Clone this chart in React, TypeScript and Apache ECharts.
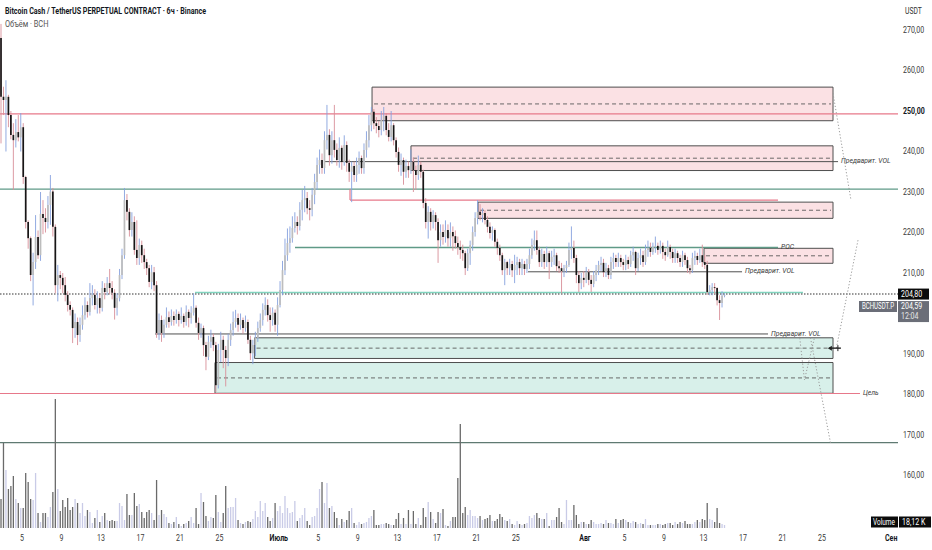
import React, { useEffect, useRef } from "react";
import * as echarts from "echarts";

// ---------------- data ----------------
const FIRST_OPEN = 268;
const FIRST_CANDLE_DAY = 1.75; // days counted from 1 June 00:00 (2 June 18:00)
const CANDLE_DAYS = 0.25; // 6h candles

const closes = [
  253.5, 252.7, 253.5, 249, 244.1, 242.8, 244.8, 243.5, 246, 233.7,
  222.6, 218.6, 209.5, 212.7, 218.9, 214.4, 224.6, 223.6, 222.6, 226.8,
  230.1, 221.4, 207, 209.5, 208.8, 207, 204.6, 202.1, 200.9, 196.4,
  197.9, 194.7, 197.2, 199.6, 202.1, 200.4, 203.8, 204.6, 202.1, 203.8,
  201.4, 206.3, 205.3, 207.5, 206.3, 205.1, 201.4, 203.8, 209.5, 214.4,
  228, 225.1, 220.6, 222.6, 215.7, 213.7, 216.9, 214.4, 212.7, 211.2,
  207.8, 210.2, 207, 195.2, 198.4, 195.2, 197.2, 199.1, 197.9, 199.4,
  198.4, 199.9, 198.4, 199.4, 197.9, 200.4, 198.9, 200.2, 201.4, 197.7,
  195.2, 196.4, 192.2, 189.3, 193, 194.2, 192.2, 182.3, 191, 193.5,
  191, 189, 193.5, 195.9, 197.9, 198.9, 197.2, 198.4, 196.4, 197.9,
  193.5, 190.2, 192.2, 194, 196.4, 198.4, 200.9, 202.1, 199.6, 198.4,
  200.2, 197.2, 202.1, 205.8, 210.7, 214.4, 217.4, 218.6, 221.1, 222.6,
  221.6, 225.6, 228, 228.5, 226, 225.6, 229.3, 232.5, 236.7, 237.9,
  235.9, 242.8, 244.1, 239.1, 242.8, 240.4, 237.9, 240.9, 237.4, 241.6,
  237.2, 235, 236.4, 234.2, 236.7, 238.4, 235.9, 240.4, 242.8, 246.5,
  249.8, 247, 246.3, 245.3, 247.8, 248.8, 245.3, 243.6, 246.5, 242.8,
  239.9, 236.7, 237.9, 235, 236.4, 235.4, 237.4, 235.4, 234.2, 236.7,
  235, 227.3, 222.6, 225.1, 222.6, 224.3, 222.6, 218.1, 220.1, 218.9,
  220.6, 218.6, 220.1, 219.1, 217.4, 216.4, 215.7, 214.9, 211.2, 214.9,
  216.9, 220.1, 223.6, 225.1, 224.3, 224.8, 223.1, 221.4, 219.9, 220.6,
  217.7, 216.2, 214.4, 210.7, 212.7, 211.2, 212.2, 210.7, 212, 212.7,
  211.2, 212.2, 211, 212.2, 214.4, 216.9, 218.1, 215.7, 212.7, 214.7,
  212.7, 214.9, 212.7, 214, 214.4, 211.7, 211.2, 210.5, 211.2, 212,
  215.7, 216.2, 213.7, 209.5, 207.5, 208.8, 208.3, 210.2, 208.3, 207.3,
  209.5, 210.7, 212, 212.5, 210.2, 211.2, 209.5, 212.7, 213.7, 212.7,
  213.7, 212.7, 212, 213.2, 212.2, 214.4, 215.2, 211.2, 213.7, 214.4,
  212.7, 215.7, 216.2, 215.2, 216.4, 216.7, 215.7, 216.7, 215.2, 214.4,
  216.4, 215.2, 213.7, 214.9, 213.7, 212.7, 214.4, 213.2, 211.2, 210.7,
  213.7, 214.2, 213.2, 214.4, 212.7, 212, 205.3, 205.8, 206.5, 206.3,
  203.3, 202.6, 204.4, 204.6,
];

const highs = [
  271.5, 256, 257.6, 254, 250, 247, 248, 249, 249.5, 247,
  234, 223, 219, 215, 224.3, 220.5, 230, 228, 226, 229,
  234.2, 231, 222, 212, 210.5, 210, 209, 205.5, 203, 201.5,
  200, 199, 199, 202, 204, 203, 207.5, 207, 206, 205.5,
  205, 208, 207.5, 209, 211, 208, 206, 205, 211, 216,
  231, 229.5, 226, 225, 224, 223, 218.5, 218, 216, 213.5,
  212, 212, 211.5, 208, 200, 199.5, 198.5, 201.5, 200.5, 201,
  200.5, 201, 200.5, 201.5, 200, 202, 201, 201.8, 205, 202,
  199, 197.5, 197, 193, 194.5, 196, 195, 193, 192.5, 195.5,
  194.5, 192, 195, 197.5, 200.5, 200.9, 200, 200, 199, 199.5,
  198.5, 194.5, 193.5, 195.5, 198, 200, 202.5, 204, 203.5, 201.5,
  201.5, 201, 204, 208, 213, 218.5, 221, 221.5, 224, 225,
  224, 227.5, 230.5, 231.5, 230, 228, 231, 234.5, 238.5, 240.5,
  239.5, 245, 251.5, 245.5, 245, 251.5, 242, 243.5, 241.5, 244,
  242.5, 238, 237.5, 237.5, 238.5, 240, 239, 242, 245, 249,
  251, 250.5, 248.5, 247.5, 250, 251, 249.5, 247, 250, 247,
  243.5, 241, 239.5, 238.5, 238, 237.5, 240.5, 238.5, 236.5, 239,
  237.5, 235.5, 228.5, 226.5, 226, 225.5, 225, 223.5, 222, 222,
  223, 222, 222.5, 221.5, 220.5, 219, 218, 217, 215.5, 216,
  218, 221.5, 225, 228, 227, 226, 225.5, 224, 222.5, 221.5,
  221, 218.5, 217, 215, 213.5, 213, 213.5, 213, 214.5, 214,
  213.5, 213.5, 213, 213.5, 216, 218.5, 220.5, 220.5, 216.5, 216,
  215.5, 216.5, 215.5, 215.5, 216, 215, 213, 212.5, 212, 213,
  217.5, 221.5, 218, 214.5, 210.5, 210, 210.5, 211.5, 211, 209.5,
  210.5, 212, 213, 214, 213.5, 212.5, 212, 214, 215, 214.5,
  215, 214.5, 213.5, 214.5, 214, 215.5, 216.5, 215.5, 215, 216,
  215.5, 217, 218, 217.5, 217.5, 219, 217.5, 218, 217.5, 216,
  218, 217, 216, 216, 215.5, 214.5, 215.5, 215, 214, 212,
  215, 215.5, 215, 216, 217, 214.5, 213, 207, 207.5, 207.5,
  206.5, 204.5, 205.5, 205,
];

const lows = [
  242, 249, 240, 246, 243, 230.5, 241, 242.5, 240, 232,
  221, 216, 208, 202, 211, 213.5, 213, 219.6, 220, 221,
  221.9, 219, 205, 203, 206, 205, 203, 200.5, 199.5, 192.7,
  194, 192.2, 193, 196, 198.5, 199, 199.5, 202, 201, 200,
  200, 200.5, 203.5, 204.5, 204.8, 203.5, 198.5, 199.5, 203, 208.5,
  213.5, 223, 219, 219, 214.5, 212, 212, 212.5, 211, 209.5,
  206.5, 206, 205.5, 194, 193.5, 193, 194, 196.5, 196.5, 197,
  197, 197.5, 196.8, 197.5, 196.5, 197, 196.6, 197.5, 199.5, 196.5,
  193.5, 194, 189.5, 186, 188.5, 191.5, 190.7, 180.6, 181.5, 188,
  186.5, 182, 187, 192, 194.5, 196.5, 195.5, 196, 195, 195.5,
  192.5, 188.5, 187.5, 189.5, 193, 195.5, 197, 199.5, 198, 195.5,
  197, 195.5, 194.5, 201.5, 204.5, 209.5, 213, 215, 217.5, 220,
  219.5, 220.5, 223, 225, 224.5, 223, 224, 227, 230.5, 234.5,
  234.5, 234.5, 240.5, 236.5, 237, 238.5, 236.5, 236, 235.5, 236.5,
  235, 232.5, 227.5, 232.5, 232.5, 234.5, 234.5, 234.5, 238.5, 241,
  245, 245.5, 244.5, 243.5, 244, 245, 244, 242.5, 242.5, 241.5,
  238.5, 235, 234, 231.8, 233.5, 233.5, 234.5, 230, 230.5, 233,
  233.5, 226, 221, 218.5, 220.5, 221, 220.5, 212.5, 216.5, 217,
  217.5, 216.5, 216.5, 215.5, 216, 214.5, 213.5, 213, 209.5, 210.5,
  212, 215.5, 219, 222, 223, 222.5, 222, 220, 218.5, 218,
  216.5, 214.5, 213, 209.5, 207, 209.5, 209.5, 209, 207.5, 209.5,
  209.5, 209.5, 209.5, 210, 211, 213.5, 215.5, 214.5, 211.5, 211.5,
  211, 211.5, 208.5, 211.5, 212, 210.5, 210, 205, 209, 210,
  211.5, 213.5, 212.5, 207.5, 205.3, 206, 206.5, 207.5, 207, 205.3,
  206.5, 208, 209.5, 210.5, 209, 209, 208.5, 208.5, 211, 211.5,
  211.5, 211.5, 210.7, 210.7, 211, 211.5, 213, 209.5, 210.5, 212,
  211.5, 212, 214, 214, 214.5, 215, 214.5, 214.8, 213.5, 213,
  214, 213.5, 212.5, 212.5, 212.5, 211.5, 211.5, 212, 210, 209.7,
  210, 212, 212, 212.5, 211.5, 211, 204.6, 204.5, 204.5, 204.8,
  202, 198.4, 201.5, 204,
];

// volume, thousand BCH
const volumes = [
  174, 510, 348, 234, 252, 312, 174, 150, 120, 120,
  330, 276, 174, 168, 330, 90, 36, 90, 90, 66,
  126, 216, 774, 234, 102, 168, 126, 180, 108, 126,
  174, 150, 90, 150, 72, 108, 96, 30, 60, 108,
  36, 72, 90, 48, 42, 48, 42, 42, 150, 132,
  48, 204, 78, 78, 210, 132, 144, 96, 60, 96,
  108, 90, 48, 288, 78, 108, 84, 66, 30, 24,
  36, 66, 24, 12, 24, 30, 42, 66, 30, 120,
  24, 210, 156, 72, 42, 66, 60, 198, 96, 36,
  90, 252, 120, 126, 126, 180, 48, 30, 24, 36,
  42, 36, 54, 102, 66, 162, 102, 150, 66, 42,
  60, 150, 102, 132, 90, 192, 120, 90, 96, 162,
  42, 60, 78, 120, 42, 18, 66, 72, 120, 234,
  276, 150, 270, 120, 132, 96, 60, 18, 54, 36,
  48, 102, 120, 30, 18, 36, 24, 30, 36, 60,
  72, 108, 18, 18, 24, 24, 30, 24, 18, 18,
  54, 90, 24, 60, 24, 108, 24, 102, 24, 60,
  18, 120, 66, 156, 96, 54, 30, 96, 90, 114,
  18, 12, 42, 66, 66, 300, 624, 90, 126, 78,
  108, 72, 72, 60, 72, 48, 54, 60, 78, 42,
  42, 54, 84, 66, 48, 42, 54, 24, 18, 42,
  24, 18, 24, 30, 72, 60, 78, 90, 60, 54,
  54, 90, 12, 48, 48, 66, 120, 36, 24, 168,
  48, 48, 138, 78, 24, 36, 36, 24, 24, 48,
  36, 24, 24, 30, 24, 48, 30, 30, 24, 54,
  30, 48, 54, 48, 36, 30, 42, 36, 24, 30,
  24, 54, 18, 18, 18, 18, 24, 24, 18, 24,
  30, 30, 18, 36, 24, 36, 30, 42, 24, 24,
  24, 36, 48, 36, 54, 48, 150, 54, 48, 36,
  120, 30, 24, 18,
];

// time axis (days from 1 June) and price axis ticks
const xTickDays = [4, 8, 12, 16, 20, 24, 30, 34, 38, 42, 46, 50, 54, 61, 65, 69, 73, 77, 81, 85, 92];
const xTickLabels = ["5", "9", "13", "17", "21", "25", "Июль", "5", "9", "13", "17", "21", "25", "Авг", "5", "9", "13", "17", "21", "25", "Сен"];
const yTicks = [270, 260, 250, 240, 230, 220, 210, 190, 180, 170, 160];
const yTickBold = [250];

// supply / demand zones
const zoneStart = [39.44, 43.38, 50.17, 73.05, 27.55, 23.54];
const zoneEnd = [86.11, 86.11, 86.11, 86.11, 86.11, 86.11];
const zoneLow = [247.6, 235.3, 223.5, 212.4, 188.9, 180.3];
const zoneHigh = [255.9, 241.4, 227.5, 216.1, 194.0, 187.9];
const zoneKind = ["sell", "sell", "sell", "sell", "buy", "buy"];

// horizontal levels
const X_MIN = 1.773;
const X_MAX = 92.69;
const levelPrice = [249.3, 230.7, 180.25, 168.1, 228.0, 216.3, 237.5, 210.3, 205.2, 194.95, 204.8];
const levelFrom = [X_MIN, X_MIN, X_MIN, X_MIN, 37.21, 31.64, 34.68, 55.23, 21.52, 17.47, X_MIN];
const levelTo = [X_MAX, X_MAX, 88.84, X_MAX, 80.54, 80.54, 86.62, 76.9, 83.07, 79.53, X_MAX];
const levelHook = [null, null, null, null, 230.7, null, null, null, null, null, null];
const levelKind = ["red", "teal", "red", "slate", "red", "teal", "gray", "gray", "mint", "gray", "last"];
const levelLabel = ["", "", "Цель", "", "", "POC", "Предварит. VOL", "Предварит. VOL", "", "Предварит. VOL", ""];

// dotted projection paths [day, price]
const projectionPaths = [
  [[86.11, 254.4], [87.93, 228.0]],
  [[88.64, 218.1], [86.41, 191.0]],
  [[83.83, 194.0], [85.86, 168.0]],
  [[82.71, 194.7], [83.22, 183.6], [84.23, 194.0]],
];
const exitMarker = [86.3, 191.45];

const LAST_PRICE = 204.8;
const LAST_TRADE = "204,59";
const LAST_COUNTDOWN = "12:04";
const LAST_VOLUME = "18,12 K";
const TICKER = "BCHUSDT.P";

// ---------------- styles ----------------
const Y_MIN = 147.04;
const Y_MAX = 277.41;
const VOL_MAX = 3168;
const FONT = "Roboto, 'Noto Sans', sans-serif";
const SX = 0.78;

const BODY_UP = "#bdbdbd";
const BODY_DOWN = "#161616";
const WICK_UP = "#86a0de";
const WICK_DOWN = "#d88e98";
const VOL_UP = "#c9cbe7";
const VOL_DOWN = "#6a6a6a";

const levelColor: Record<string, string> = {
  red: "#e7788a",
  teal: "#5f9a87",
  slate: "#5f7a72",
  gray: "#505050",
  mint: "#80d4be",
  last: "#333333",
};
const levelWidth: Record<string, number> = { red: 1.2, teal: 1.3, slate: 1.3, gray: 1, mint: 1.6, last: 1.1 };

const fmt = (v: number) => v.toFixed(2).replace(".", ",");

function buildOption() {
  const n = Math.min(closes.length, highs.length, lows.length, volumes.length);
  const candleData: number[][] = [];
  for (let i = 0; i < n; i++) {
    const o = i === 0 ? FIRST_OPEN : closes[i - 1];
    candleData.push([FIRST_CANDLE_DAY + CANDLE_DAYS * (i + 0.5), o, closes[i], lows[i], highs[i], volumes[i]]);
  }

  const textEl = (x: number, y: number, text: string, opts: any = {}) => ({
    type: "text",
    x,
    y,
    scaleX: opts.scaleX ?? SX,
    silent: true,
    style: {
      x: 0,
      y: 0,
      text,
      fill: opts.fill ?? "#333",
      font: `${opts.style ?? "normal"} ${opts.weight ?? "normal"} ${opts.size ?? 9}px ${FONT}`,
      align: opts.align ?? "left",
      verticalAlign: opts.vAlign ?? "middle",
    },
  });

  return {
    animation: false,
    backgroundColor: "#ffffff",
    grid: { left: 0, right: 34, top: 0, bottom: 22, containLabel: false },
    xAxis: { type: "value", min: X_MIN, max: X_MAX, show: false },
    yAxis: [
      { type: "value", min: Y_MIN, max: Y_MAX, show: false },
      { type: "value", min: 0, max: VOL_MAX, show: false },
    ],
    series: [
      // zones
      {
        type: "custom",
        name: "zones",
        z: 1,
        silent: true,
        data: zoneStart.map((s, i) => [s, zoneLow[i], zoneEnd[i], zoneHigh[i], zoneKind[i] === "sell" ? 1 : 0]),
        encode: { x: [0, 2], y: [1, 3] },
        renderItem: (params: any, api: any) => {
          const s = api.value(0), lo = api.value(1), e = api.value(2), hi = api.value(3), sell = api.value(4);
          const a = api.coord([s, hi]);
          const b = api.coord([e, lo]);
          const m = api.coord([s, (lo + hi) / 2]);
          return {
            type: "group",
            children: [
              {
                type: "rect",
                shape: { x: a[0], y: a[1], width: b[0] - a[0], height: b[1] - a[1] },
                style: { fill: sell ? "#fbe1e4" : "#d8f0ea", stroke: "#4e4e4e", lineWidth: 1 },
              },
              {
                type: "line",
                shape: { x1: a[0] + 2, y1: m[1], x2: b[0] - 2, y2: m[1] },
                style: { stroke: "#5a5a5a", lineWidth: 0.9, lineDash: [4, 3] },
              },
            ],
          };
        },
      },
      // levels
      {
        type: "custom",
        name: "levels",
        z: 2,
        silent: true,
        data: levelPrice.map((p, i) => [levelFrom[i], p, levelTo[i], i]),
        encode: { x: [0, 2], y: 1 },
        renderItem: (params: any, api: any) => {
          const i = params.dataIndex;
          const f = api.value(0), p = api.value(1), t = api.value(2);
          const a = api.coord([f, p]);
          const b = api.coord([t, p]);
          const kind = levelKind[i];
          const children: any[] = [
            {
              type: "line",
              shape: { x1: a[0], y1: a[1], x2: b[0], y2: b[1] },
              style: {
                stroke: levelColor[kind],
                lineWidth: levelWidth[kind],
                lineDash: kind === "last" ? [1.5, 1.5] : null,
              },
            },
          ];
          const hook = levelHook[i];
          if (hook !== null && hook !== undefined) {
            const h = api.coord([f, hook]);
            children.push({
              type: "line",
              shape: { x1: a[0], y1: h[1], x2: a[0], y2: a[1] },
              style: { stroke: levelColor[kind], lineWidth: levelWidth[kind] },
            });
          }
          if (levelLabel[i]) {
            children.push(
              textEl(b[0] + 3, a[1] - 1, levelLabel[i], { style: "italic", size: 8, fill: "#3c3c3c", scaleX: 0.85 })
            );
          }
          return { type: "group", children };
        },
      },
      // volume
      {
        type: "custom",
        name: "volume",
        z: 3,
        silent: true,
        yAxisIndex: 1,
        data: candleData.map((r) => [r[0], r[5], r[2] >= r[1] ? 1 : 0]),
        encode: { x: 0, y: 1 },
        renderItem: (params: any, api: any) => {
          const d = api.value(0), v = api.value(1), up = api.value(2);
          const p = api.coord([d, v]);
          const b = api.coord([d, 0]);
          return {
            type: "rect",
            shape: { x: p[0] - 0.65, y: p[1], width: 1.3, height: b[1] - p[1] },
            style: { fill: up ? VOL_UP : VOL_DOWN },
          };
        },
      },
      // candles
      {
        type: "custom",
        name: "BCHUSDT.P",
        z: 5,
        silent: true,
        data: candleData,
        encode: { x: 0, y: [1, 2, 3, 4] },
        renderItem: (params: any, api: any) => {
          const d = api.value(0), o = api.value(1), c = api.value(2);
          const lo = Math.min(api.value(3), o, c);
          const hi = Math.max(api.value(4), o, c);
          const up = c >= o;
          const top = api.coord([d, Math.max(o, c)]);
          const bot = api.coord([d, Math.min(o, c)]);
          const ph = api.coord([d, hi]);
          const pl = api.coord([d, lo]);
          const x = top[0];
          const bw = 1.7;
          return {
            type: "group",
            children: [
              {
                type: "line",
                shape: { x1: x, y1: ph[1], x2: x, y2: pl[1] },
                style: { stroke: up ? WICK_UP : WICK_DOWN, lineWidth: 0.9 },
              },
              {
                type: "rect",
                shape: { x: x - bw / 2, y: top[1], width: bw, height: Math.max(0.9, bot[1] - top[1]) },
                style: { fill: up ? BODY_UP : BODY_DOWN },
              },
            ],
          };
        },
      },
      // projections
      {
        type: "custom",
        name: "projections",
        z: 6,
        silent: true,
        data: projectionPaths.map((path, i) => [path[0][0], path[0][1], i]),
        encode: { x: 0, y: 1 },
        renderItem: (params: any, api: any) => {
          const path = projectionPaths[params.dataIndex];
          const pts = path.map((pt) => api.coord(pt));
          return {
            type: "polyline",
            shape: { points: pts },
            style: { stroke: "#9b9b9b", lineWidth: 1, lineDash: [1.2, 2], fill: null },
          };
        },
      },
      // exit marker
      {
        type: "custom",
        name: "marker",
        z: 7,
        silent: true,
        data: [exitMarker],
        encode: { x: 0, y: 1 },
        renderItem: (params: any, api: any) => {
          const p = api.coord([api.value(0), api.value(1)]);
          return {
            type: "group",
            children: [
              { type: "line", shape: { x1: p[0] - 6, y1: p[1], x2: p[0] + 6, y2: p[1] }, style: { stroke: "#222", lineWidth: 1.4 } },
              { type: "polygon", shape: { points: [[p[0] - 7, p[1]], [p[0] - 3, p[1] - 2.5], [p[0] - 3, p[1] + 2.5]] }, style: { fill: "#222" } },
              { type: "line", shape: { x1: p[0] + 3, y1: p[1] - 3, x2: p[0] + 3, y2: p[1] + 3 }, style: { stroke: "#222", lineWidth: 1 } },
            ],
          };
        },
      },
      // price axis labels
      {
        type: "custom",
        name: "yLabels",
        z: 8,
        silent: true,
        data: yTicks.map((v) => [X_MAX, v]),
        encode: { x: 0, y: 1 },
        renderItem: (params: any, api: any) => {
          const v = api.value(1);
          const p = api.coord([api.value(0), v]);
          const bold = yTickBold.includes(v);
          return textEl(p[0] + 5, p[1], fmt(v), { size: 9, weight: bold ? "bold" : "normal", fill: bold ? "#131722" : "#3a3a3a" });
        },
      },
      // time axis labels
      {
        type: "custom",
        name: "xLabels",
        z: 8,
        silent: true,
        data: xTickDays.map((d) => [d, Y_MIN]),
        encode: { x: 0, y: 1 },
        renderItem: (params: any, api: any) => {
          const p = api.coord([api.value(0), api.value(1)]);
          const label = xTickLabels[params.dataIndex];
          const month = isNaN(Number(label));
          return textEl(p[0], p[1] + 10, label, {
            size: 9,
            align: "center",
            weight: month ? "bold" : "normal",
            fill: month ? "#131722" : "#3a3a3a",
          });
        },
      },
      // last price tags
      {
        type: "custom",
        name: "lastPrice",
        z: 9,
        silent: true,
        data: [[X_MAX, LAST_PRICE]],
        encode: { x: 0, y: 1 },
        renderItem: (params: any, api: any) => {
          const p = api.coord([api.value(0), api.value(1)]);
          const x = p[0];
          const y = p[1];
          return {
            type: "group",
            children: [
              { type: "rect", shape: { x: x, y: y - 5.5, width: 31, height: 11 }, style: { fill: "#0b0b0b" } },
              textEl(x + 3, y, fmt(api.value(1)), { fill: "#ffffff", size: 9 }),
              { type: "rect", shape: { x: x - 39, y: y + 7, width: 38, height: 11 }, style: { fill: "#6b6e78" } },
              textEl(x - 20, y + 12.5, TICKER, { fill: "#ffffff", size: 9, align: "center", scaleX: 0.68 }),
              { type: "rect", shape: { x: x, y: y + 7, width: 31, height: 21 }, style: { fill: "#6b6e78" } },
              textEl(x + 3, y + 12.5, LAST_TRADE, { fill: "#ffffff", size: 9 }),
              textEl(x + 3, y + 22.5, LAST_COUNTDOWN, { fill: "#e6e6e6", size: 9 }),
            ],
          };
        },
      },
    ],
    graphic: [
      textEl(5, 11, "Bitcoin Cash / TetherUS PERPETUAL CONTRACT · 6ч · Binance", {
        weight: "bold",
        size: 9.5,
        fill: "#131722",
        scaleX: 0.75,
      }),
      textEl(5, 23.5, "Объём · BCH", { size: 9.5, fill: "#555", scaleX: 0.78 }),
      textEl(905, 11, "USDT", { size: 8.5, fill: "#333", scaleX: 0.8 }),
      { type: "rect", shape: { x: 871, y: 516.5, width: 27, height: 11 }, style: { fill: "#0b0b0b" }, silent: true },
      textEl(873, 522, "Volume", { size: 9, fill: "#ffffff", scaleX: 0.72 }),
      { type: "rect", shape: { x: 899, y: 516.5, width: 32, height: 11 }, style: { fill: "#0b0b0b" }, silent: true },
      textEl(902, 522, LAST_VOLUME, { size: 9, fill: "#ffffff", scaleX: 0.78 }),
    ],
  };
}

export default function App() {
  const ref = useRef<HTMLDivElement>(null);
  useEffect(() => {
    if (!ref.current) return;
    const chart = echarts.init(ref.current, undefined, { renderer: "svg" });
    chart.setOption(buildOption() as any);
    return () => chart.dispose();
  }, []);
  return (
    <div
      ref={ref}
      style={{ position: "fixed", left: 0, top: 0, width: 932, height: 550, background: "#ffffff" }}
    />
  );
}
